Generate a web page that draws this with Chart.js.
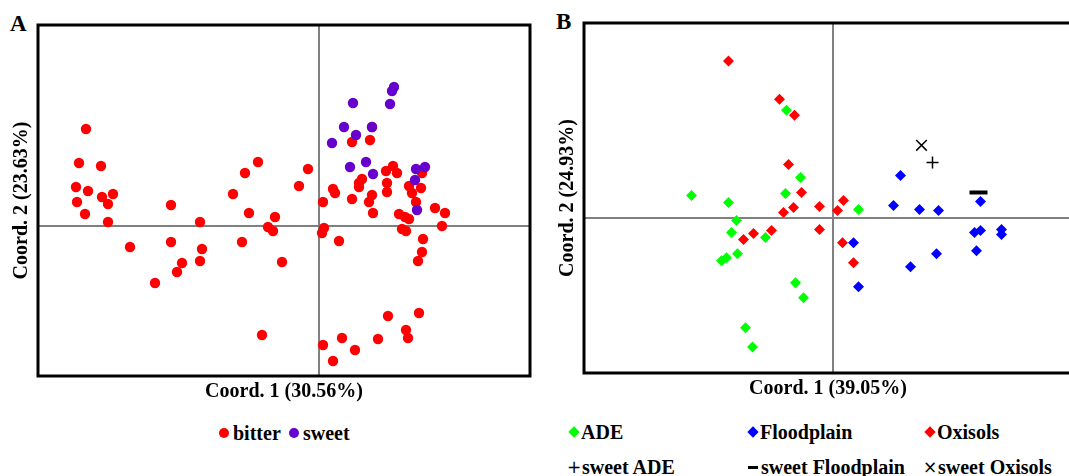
<!DOCTYPE html>
<html>
<head>
<meta charset="utf-8">
<script src="https://cdn.jsdelivr.net/npm/chart.js"></script>
<style>
  html, body { margin: 0; padding: 0; background: #fff; overflow: hidden; width: 1069px; height: 476px; }
  body { position: relative; font-family: "Liberation Serif", "Times New Roman", serif; font-weight: bold; color: #000; }
  canvas { position: absolute; top: 0; }
  #boxB { position: absolute; left: 540px; top: 0; width: 529px; height: 410px; overflow: hidden; }
  .tag { position: absolute; font-size: 23px; line-height: 1; }
  .item { position: absolute; display: flex; align-items: center; height: 24px; font-size: 20px; white-space: nowrap; }
  .mk { width: 12px; height: 24px; display: flex; align-items: center; justify-content: center; flex: none; }
  .dot { width: 10px; height: 10px; border-radius: 50%; }
  .dia { width: 8px; height: 8px; transform: rotate(45deg); }
  .bar { width: 10px; height: 3px; background: #000; }
  .sym { font-family: "DejaVu Sans", sans-serif; font-weight: normal; font-size: 17px; line-height: 1; }
</style>
</head>
<body>
<div class="tag" style="left:10px;top:12px">A</div>
<div class="tag" style="left:556px;top:10px">B</div>
<canvas id="chartA" width="545" height="410" style="left:0"></canvas>
<div id="boxB"><canvas id="chartB" width="545" height="410" style="left:0"></canvas></div>
<div id="legendA"></div>
<div id="legendB"></div>
<script>
// panel A: cassava types
const seriesA = ["bitter", "sweet"];
const bitterPts = [
  [-0.233, 0.097], [-0.240, 0.063], [-0.218, 0.060], [-0.243, 0.039], [-0.231, 0.035],
  [-0.217, 0.029], [-0.206, 0.032], [-0.242, 0.024], [-0.211, 0.022], [-0.234, 0.012],
  [-0.211, 0.004], [-0.189, -0.021], [-0.148, 0.021], [-0.119, 0.004], [-0.148, -0.016],
  [-0.117, -0.023], [-0.137, -0.037], [-0.119, -0.035], [-0.142, -0.046], [-0.164, -0.057],
  [-0.061, 0.064], [-0.074, 0.053], [-0.086, 0.032], [-0.070, 0.013], [-0.044, 0.009],
  [-0.051, -0.001], [-0.046, -0.005], [-0.077, -0.016], [-0.037, -0.036], [-0.020, 0.040],
  [-0.011, 0.057], [-0.057, -0.109], [0.004, 0.024], [0.005, -0.002], [0.003, -0.007],
  [0.020, -0.015], [0.014, 0.037], [0.016, 0.033], [0.033, 0.084], [0.053, 0.099],
  [0.051, 0.086], [0.043, 0.047], [0.040, 0.043], [0.040, 0.039], [0.033, 0.027],
  [0.053, 0.031], [0.050, 0.024], [0.054, 0.013], [0.067, 0.055], [0.074, 0.060],
  [0.078, 0.053], [0.068, 0.043], [0.068, 0.034], [0.090, 0.040], [0.093, 0.033],
  [0.102, 0.038], [0.103, 0.053], [0.097, 0.024], [0.080, 0.012], [0.086, 0.009],
  [0.090, 0.007], [0.083, -0.003], [0.087, -0.005], [0.116, 0.018], [0.126, 0.013],
  [0.123, 0.000], [0.104, -0.013], [0.103, -0.026], [0.099, -0.035], [0.100, -0.087],
  [0.069, -0.090], [0.087, -0.104], [0.089, -0.112], [0.059, -0.113], [0.023, -0.112],
  [0.036, -0.124], [0.004, -0.119], [0.014, -0.135]
];
const sweetPts = [
  [0.075, 0.139], [0.073, 0.135], [0.034, 0.123], [0.071, 0.122], [0.025, 0.099],
  [0.053, 0.099], [0.037, 0.091], [0.013, 0.083], [0.031, 0.059], [0.047, 0.064],
  [0.054, 0.052], [0.097, 0.057], [0.106, 0.059], [0.096, 0.046], [0.098, 0.016]
];

// panel B: soil types
const seriesB = ["ADE", "Floodplain", "Oxisols", "sweet ADE", "sweet Floodplain", "sweet Oxisols"];
const adePts = [
  [-0.141, 0.022], [-0.104, 0.015], [-0.046, 0.107], [-0.032, 0.040], [-0.047, 0.024],
  [0.026, 0.008], [-0.096, -0.003], [-0.101, -0.015], [-0.067, -0.020], [-0.095, -0.036],
  [-0.106, -0.040], [-0.111, -0.043], [-0.037, -0.065], [-0.029, -0.080], [-0.087, -0.110],
  [-0.080, -0.129]
];
const floodPts = [
  [0.068, 0.042], [0.061, 0.012], [0.087, 0.008], [0.106, 0.007], [0.148, 0.016],
  [0.142, -0.015], [0.148, -0.013], [0.169, -0.012], [0.169, -0.017], [0.144, -0.033],
  [0.104, -0.036], [0.078, -0.049], [0.021, -0.025], [0.026, -0.069]
];
const oxiPts = [
  [-0.104, 0.156], [-0.053, 0.118], [-0.038, 0.102], [-0.044, 0.053], [-0.031, 0.025],
  [-0.039, 0.010], [-0.049, 0.005], [-0.013, 0.011], [0.011, 0.017], [0.005, 0.007],
  [-0.013, -0.012], [-0.061, -0.013], [-0.079, -0.016], [-0.089, -0.022], [0.010, -0.025],
  [0.021, -0.045]
];
const sweetAdePts = [[0.100, 0.055]];
const sweetFloodPts = [[0.146, 0.025]];
const sweetOxiPts = [[0.089, 0.072]];

const toXY = (pts) => pts.map(([x, y]) => ({ x: x, y: y }));

Chart.defaults.font.family = '"Liberation Serif", "Times New Roman", serif';
Chart.defaults.color = "#000";

// black frame round the plot area
const frameBox = {
  id: "frameBox",
  afterDatasetsDraw(chart) {
    const { ctx, chartArea: a } = chart;
    ctx.save();
    ctx.strokeStyle = "#000";
    ctx.lineWidth = 3;
    ctx.strokeRect(a.left, a.top, a.right - a.left, a.bottom - a.top);
    ctx.restore();
  }
};

// only one grid line, at zero
function axis(title, min, max) {
  return {
    type: "linear",
    min: min,
    max: max,
    afterBuildTicks: (scale) => { scale.ticks = [{ value: 0 }]; },
    ticks: { display: false },
    border: { display: false },
    grid: { color: "#808080", lineWidth: 2, drawTicks: false },
    title: { display: true, text: title, font: { size: 20, weight: "bold" }, padding: { top: 4, bottom: 4 } }
  };
}

function baseOptions(xTitle, yTitle, xr, yr, pad) {
  return {
    responsive: false,
    animation: false,
    events: [],
    layout: { padding: pad },
    scales: { x: axis(xTitle, xr[0], xr[1]), y: axis(yTitle, yr[0], yr[1]) },
    plugins: { legend: { display: false }, tooltip: { enabled: false } }
  };
}

const setA = [
  { label: seriesA[0], data: toXY(bitterPts), backgroundColor: "#ff0000", pointStyle: "circle", pointRadius: 5.2, borderWidth: 0, order: 1 },
  { label: seriesA[1], data: toXY(sweetPts), backgroundColor: "#6600cc", pointStyle: "circle", pointRadius: 5.2, borderWidth: 0, order: 0 }
];

new Chart(document.getElementById("chartA"), {
  type: "scatter",
  data: { datasets: setA },
  options: baseOptions("Coord. 1 (30.56%)", "Coord. 2 (23.63%)", [-0.281, 0.211], [-0.150, 0.201],
    { left: 6, top: 25, right: 15, bottom: 2 }),
  plugins: [frameBox]
});

const setB = [
  { label: seriesB[0], data: toXY(adePts), backgroundColor: "#00ff00", pointStyle: "rectRot", pointRadius: 5.5, borderWidth: 0, order: 5 },
  { label: seriesB[1], data: toXY(floodPts), backgroundColor: "#0000ff", pointStyle: "rectRot", pointRadius: 5.5, borderWidth: 0, order: 4 },
  { label: seriesB[2], data: toXY(oxiPts), backgroundColor: "#ff0000", pointStyle: "rectRot", pointRadius: 5.5, borderWidth: 0, order: 3 },
  { label: seriesB[3], data: toXY(sweetAdePts), borderColor: "#000", pointStyle: "cross", pointRadius: 6, borderWidth: 1.5, order: 2 },
  { label: seriesB[4], data: toXY(sweetFloodPts), borderColor: "#000", pointStyle: "line", pointRadius: 9, borderWidth: 4, order: 1 },
  { label: seriesB[5], data: toXY(sweetOxiPts), borderColor: "#000", pointStyle: "crossRot", pointRadius: 7.5, borderWidth: 1.5, order: 0 }
];

new Chart(document.getElementById("chartB"), {
  type: "scatter",
  data: { datasets: setB },
  options: baseOptions("Coord. 1 (39.05%)", "Coord. 2 (24.93%)", [-0.2485, 0.2395], [-0.155, 0.194],
    { left: 12, top: 23, right: 8, bottom: 5 }),
  plugins: [frameBox]
});

// html legends
function marker(ds) {
  const m = document.createElement("span");
  m.className = "mk";
  const s = document.createElement("span");
  if (ds.pointStyle === "circle") { s.className = "dot"; s.style.background = ds.backgroundColor; }
  else if (ds.pointStyle === "rectRot") { s.className = "dia"; s.style.background = ds.backgroundColor; }
  else if (ds.pointStyle === "line") { s.className = "bar"; }
  else { s.className = "sym"; s.textContent = ds.pointStyle === "cross" ? "+" : "\u00d7"; }
  m.appendChild(s);
  return m;
}

function addItem(host, ds, left, top, gap) {
  const it = document.createElement("div");
  it.className = "item";
  it.style.left = left + "px";
  it.style.top = top + "px";
  it.appendChild(marker(ds));
  const t = document.createElement("span");
  t.textContent = ds.label;
  t.style.marginLeft = gap + "px";
  it.appendChild(t);
  host.appendChild(it);
}

const legA = document.getElementById("legendA");
addItem(legA, setA[0], 218, 421, 3);
addItem(legA, setA[1], 288, 421, 3);

const legB = document.getElementById("legendB");
const colX = [568, 747, 924];
setB.forEach((ds, i) => {
  const row = Math.floor(i / 3);
  addItem(legB, ds, colX[i % 3], row === 0 ? 420 : 455, row === 0 ? 1 : 2);
});
</script>
</body>
</html>
